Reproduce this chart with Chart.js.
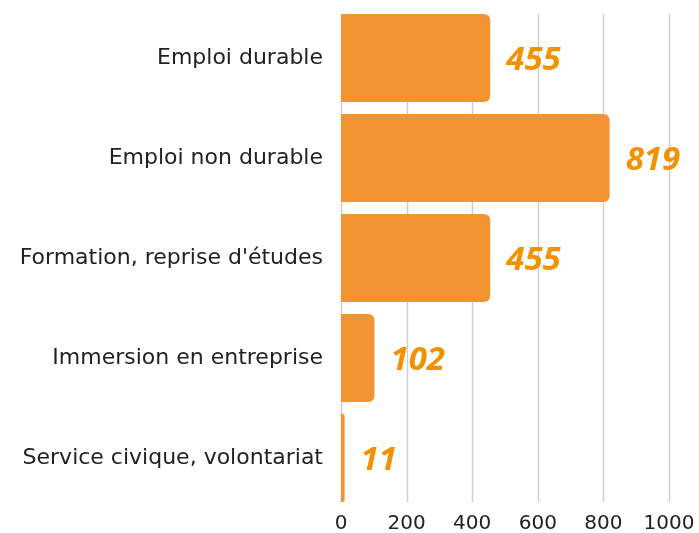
<!DOCTYPE html>
<html lang="fr">
<head>
  <meta charset="UTF-8" />
  <title>Sorties</title>
  <script src="https://cdn.jsdelivr.net/npm/chart.js"></script>
  <style>
    body { margin: 0; background: #fff; }
    #wrap { width: 699px; height: 533px; }
  </style>
</head>
<body>
  <div id="wrap"><canvas id="chart"></canvas></div>
  <script>
    const categories = [
      "Emploi durable",
      "Emploi non durable",
      "Formation, reprise d'études",
      "Immersion en entreprise",
      "Service civique, volontariat"
    ];
    const values = [455, 819, 455, 102, 11];
    const xTicks = [0, 200, 400, 600, 800, 1000];

    const barColor = '#F39433';
    const labelColor = '#F39200';
    const gridColor = '#cfcfcf';
    const fontFamily = "'DejaVu Sans', sans-serif";
    const numberFont = "'Open Sans', sans-serif";

    // vertical grid lines, only from top of first bar to bottom of last bar
    const shortGrid = {
      id: 'shortGrid',
      beforeDatasetsDraw(chart) {
        const ctx = chart.ctx;
        const bars = chart.getDatasetMeta(0).data;
        const top = bars[0].y - bars[0].height / 2;
        const last = bars[bars.length - 1];
        const bottom = last.y + last.height / 2;
        ctx.save();
        ctx.strokeStyle = gridColor;
        ctx.lineWidth = 1.5;
        xTicks.forEach(v => {
          const x = Math.round(chart.scales.x.getPixelForValue(v)) + 0.5;
          ctx.beginPath();
          ctx.moveTo(x, top);
          ctx.lineTo(x, bottom);
          ctx.stroke();
        });
        ctx.restore();
      }
    };

    // draws the numbers next to each bar
    const valueLabels = {
      id: 'valueLabels',
      afterDatasetsDraw(chart) {
        const ctx = chart.ctx;
        const meta = chart.getDatasetMeta(0);
        ctx.save();
        ctx.fillStyle = labelColor;
        ctx.font = "italic bold 33px " + numberFont;
        ctx.textBaseline = 'middle';
        ctx.textAlign = 'left';
        meta.data.forEach((bar, i) => {
          ctx.fillText(String(values[i]), bar.x + 16, bar.y + 3);
        });
        ctx.restore();
      }
    };

    new Chart(document.getElementById('chart'), {
      type: 'bar',
      data: {
        labels: categories,
        datasets: [{
          data: values,
          backgroundColor: barColor,
          borderRadius: { topRight: 6, bottomRight: 6, topLeft: 0, bottomLeft: 0 },
          borderSkipped: false,
          barPercentage: 0.88,
          categoryPercentage: 1
        }]
      },
      options: {
        indexAxis: 'y',
        responsive: true,
        maintainAspectRatio: false,
        animation: false,
        layout: { autoPadding: false, padding: { top: 8, right: 30, bottom: 0, left: 0 } },
        plugins: {
          legend: { display: false },
          tooltip: { enabled: false }
        },
        scales: {
          x: {
            min: 0,
            max: 1000,
            afterBuildTicks: axis => { axis.ticks = xTicks.map(v => ({ value: v })); },
            afterFit: scale => {
              scale.height = 25;
              scale.paddingTop = 0; scale.paddingBottom = 0;
            },
            grid: { display: false, drawTicks: false },
            border: { display: false },
            ticks: {
              color: '#222',
              font: { family: fontFamily, size: 20 },
              padding: 4,
              callback: v => String(v)
            }
          },
          y: {
            grid: { display: false, drawTicks: false },
            border: { display: false },
            afterFit: scale => {
              scale.width = 341;
              scale.paddingTop = 0; scale.paddingBottom = 0;
            },
            ticks: { color: '#222', font: { family: fontFamily, size: 22 }, padding: 18 }
          }
        }
      },
      plugins: [shortGrid, valueLabels]
    });
  </script>
</body>
</html>
